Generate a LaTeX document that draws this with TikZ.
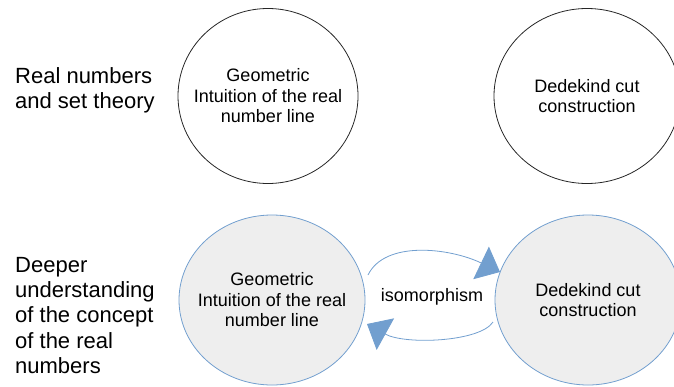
\documentclass[tikz,border=0pt]{standalone}
\usepackage{fontspec}
\setmainfont{Liberation Sans}
\usetikzlibrary{shapes.geometric,arrows.meta}
\definecolor{ringblue}{HTML}{729FCF}
\definecolor{softgray}{HTML}{EEEEEE}
\begin{document}
\begin{tikzpicture}[x=1pt,y=-1pt,
  bubble/.style={ellipse,draw=black!85,line width=0.8pt,inner sep=0pt,
    label={[align=center,inner sep=0pt,font=\fontsize{18}{20.5}\selectfont]center:#1}},
  shaded/.style={bubble={#1},draw=ringblue,fill=softgray},
  rowlabel/.style={anchor=north west,inner sep=0pt,align=left,
    font=\fontsize{22}{25.3}\selectfont},
  iso/.style={draw=ringblue,line width=0.8pt,
    -{Triangle[length=21pt,width=36pt,fill=ringblue,color=ringblue]}}]
\useasboundingbox (0,0) rectangle (674,386);

% row labels
\node[rowlabel] (lblA) at (15,67) {Real numbers\\and set theory};
\node[rowlabel] (lblB) at (15,257) {Deeper\\understanding\\of the concept\\of the real\\numbers};

% upper row
\node[bubble={Geometric\\Intuition of the real\\number line},
  minimum width=180pt,minimum height=175pt] (geoA) at (268,96) {};
\node[bubble={Dedekind cut\\construction},
  minimum width=186pt,minimum height=175pt] (dedA) at (587,96) {};

% lower row
\node[shaded={Geometric\\Intuition of the real\\number line},
  minimum width=186pt,minimum height=170pt] (geoB) at (272,300) {};
\node[shaded={Dedekind cut\\construction},
  minimum width=186pt,minimum height=170pt] (dedB) at (588,300) {};

\node[font=\fontsize{18}{20.5}\selectfont,inner sep=0pt] (iso) at (432,297) {isomorphism};

% isomorphism arrows
\coordinate (ua) at (368,275);
\coordinate (ub) at (500,272);
\coordinate (la) at (493,322);
\coordinate (lb) at (367,324);
\draw[iso] (ua) .. controls (385,240) and (450,248) .. (ub);
\draw[iso] (la) .. controls (480,342) and (405,345) .. (lb);
\end{tikzpicture}
\end{document}
